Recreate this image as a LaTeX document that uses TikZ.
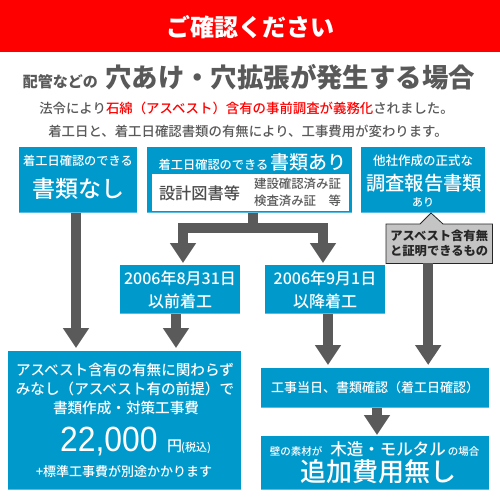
\documentclass[tikz,border=0pt]{standalone}
\usepackage{fontspec}
\usepackage{graphicx}
\setmainfont{Noto Sans CJK JP}
\newfontfamily\jpmed{Noto Sans CJK JP Medium}
\newfontfamily\arialf{Liberation Sans}
\usetikzlibrary{arrows.meta}
\definecolor{hdred}{HTML}{FF0000}
\definecolor{boxblue}{HTML}{0099CC}
\definecolor{edgeblue}{HTML}{55BDE3}
\definecolor{arrgray}{HTML}{5A5A5A}
\definecolor{txtgray}{HTML}{595959}
\definecolor{calgray}{HTML}{C4C4C4}
\newcommand{\fsz}[1]{\fontsize{#1}{#1}\selectfont}
\begin{document}
\begin{tikzpicture}[x=1pt,y=-1pt,
  box/.style={fill=boxblue, inner sep=0pt, outer sep=0pt, anchor=north west},
  wtxt/.style={text=white, inner sep=0pt, font=\jpmed},
  gtxt/.style={text=txtgray, inner sep=0pt},
  arr/.style={draw=arrgray, line width=10pt, -{Triangle[width=25pt,length=20pt]}, shorten >=3pt},
  ]
\useasboundingbox (0,0) rectangle (500,500);
\fill[white] (0,0) rectangle (500,500);
% header
\fill[hdred] (0,0) rectangle (500,52);
\node[wtxt, font=\bfseries\fsz{24}] (hd) at (250,27) {ご確認ください};
% title
\node[gtxt, anchor=base west, font=\bfseries\fsz{26.4}] (ttl) at (105,88) {穴あけ・穴拡張が発生する場合};
\node[gtxt, anchor=base east, font=\bfseries\fsz{15}] (pre) at ([xshift=-7pt]ttl.base west) {配管などの};
\node[gtxt, font=\jpmed\fsz{13.4}] (l2) at (246.5,108) {法令により\textcolor{hdred}{石綿（アスベスト）含有の事前調査が義務化}されました。};
\node[gtxt, font=\jpmed\fsz{13.4}] (l3) at (248,131) {着工日と、着工日確認書類の有無により、工事費用が変わります。};
% boxes
\node[box, minimum width=118pt, minimum height=66pt] (A) at (19,147) {};
\node[box, minimum width=205pt, minimum height=66pt] (B) at (147,147) {};
\node[box, minimum width=124pt, minimum height=66pt] (C) at (361,147) {};
\node[box, wtxt, anchor=north west, minimum width=120pt, minimum height=49pt, align=center, font=\jpmed\fontsize{16}{23}\selectfont] (D) at (120,265) {2006年8月31日\\以前着工};
\node[box, wtxt, anchor=north west, minimum width=120pt, minimum height=49pt, align=center, font=\jpmed\fontsize{16}{23}\selectfont] (E) at (265,265) {2006年9月1日\\以降着工};
\node[box, minimum width=233pt, minimum height=139pt] (F) at (8,351) {};
\node[box, wtxt, anchor=north west, minimum width=228pt, minimum height=40pt, font=\jpmed\fsz{13}] (G) at (261,368) {工事当日、書類確認（着工日確認）};
\node[box, minimum width=228pt, minimum height=54pt] (H) at (261,436) {};
\foreach \n in {A,B,C,D,E,F,G,H}
  \draw[edgeblue, line width=1.2pt] ([yshift=0.6pt]\n.south west) -- ([yshift=0.6pt]\n.south east);
% box A text
\node[wtxt, font=\jpmed\fsz{12.2}] (A1) at (78,161) {着工日確認のできる};
\node[wtxt, font=\jpmed\fsz{23}] (A2) at (78,189) {書類なし};
% box B text
\node[wtxt, anchor=base, font=\jpmed\fsz{12.2}] (B1) at (252.5,169) {着工日確認のできる\hspace{2pt}{\fsz{19}書類あり}};
\node[fill=white, inner sep=0pt, anchor=north west, minimum width=197pt, minimum height=37pt] (Bw) at (152,174) {};
\node[inner sep=0pt, text=black!70, font=\jpmed\fsz{16.2}] (B2) at (199.5,193) {設計図書等};
\node[gtxt, font=\jpmed\fontsize{12.4}{17}\selectfont, align=left] (B3) at (297.5,192.5) {建設確認済み証\\検査済み証　等};
% box C text
\node[wtxt, font=\jpmed\fsz{12.5}] (C1) at (423,161) {他社作成の正式な};
\node[wtxt, font=\jpmed\fsz{19.3}] (C2) at (424,183) {調査報告書類};
\node[wtxt, font=\jpmed\fsz{11}] (C3) at (423,202) {あり};
% callout
\node[inner sep=0pt, minimum width=106pt, minimum height=39pt, anchor=north west] (call) at (386,224) {};
\draw[fill=calgray, draw=black!85, line width=0.8pt] (call.north west) -- (420,224) -- (431,213) -- (443,224) -- (call.north east) -- (call.south east) -- (call.south west) -- cycle;
\node[inner sep=0pt, text=black!85, align=center, font=\bfseries\fontsize{12.3}{15}\selectfont] (calltxt) at (call.center) {アスベスト含有無\\と証明できるもの};
% box F text
\node[wtxt, font=\jpmed\fsz{14.6}] (F1) at (125,370) {アスベスト含有の有無に関わらず};
\node[wtxt, font=\jpmed\fsz{14.6}] (F2) at (125,389) {みなし（アスベスト有の前提）で};
\node[wtxt, font=\jpmed\fsz{14.6}] (F3) at (126,408) {書類作成・対策工事費};
\node[text=white, inner sep=0pt, anchor=base west, font=\arialf\fsz{35}] (F4) at (60,451) {\scalebox{0.91}[1]{22,000}};
\node[wtxt, anchor=base west, font=\jpmed\fsz{15}] (F5) at (167,451) {円};
\node[wtxt, anchor=base west, font=\jpmed\fsz{11}] (F6) at (181,451) {(税込)};
\node[wtxt, font=\jpmed\fsz{13}] (F7) at (124,472) {+標準工事費が別途かかります};
% box H text
\node[wtxt, anchor=base, font=\jpmed] (H1) at (374.5,455) {{\fsz{10.5}壁の素材が}\hspace{8pt}{\fsz{16.5}木造・モルタル}\hspace{2pt}{\fsz{10.5}の場合}};
\node[wtxt, font=\jpmed\fsz{26}] (H2) at (378.5,472) {追加費用無し};
% arrows
\coordinate (jn) at (253,228);
\draw[arr, shorten >=2pt] ([xshift=3.5pt]B.south) -- (jn) -| ([xshift=3pt]D.north);
\draw[arr, shorten >=2pt] ([xshift=3.5pt]B.south) -- (jn) -| ([xshift=-2pt]E.north);
\draw[arr] ([xshift=-2pt]A.south) -- ([xshift=-2pt]A.south |- F.north);
\draw[arr] ([xshift=-4pt]D.south) -- ([xshift=-4pt]D.south |- F.north);
\draw[arr] ([xshift=3pt]E.south) -- ([xshift=3pt]E.south |- G.north);
\draw[arr] ([xshift=-11pt]call.south) -- ([xshift=-11pt]call.south |- G.north);
\draw[arr, shorten >=1pt] ([xshift=2pt]G.south) -- ([xshift=2pt]G.south |- H.north);
\end{tikzpicture}
\end{document}
